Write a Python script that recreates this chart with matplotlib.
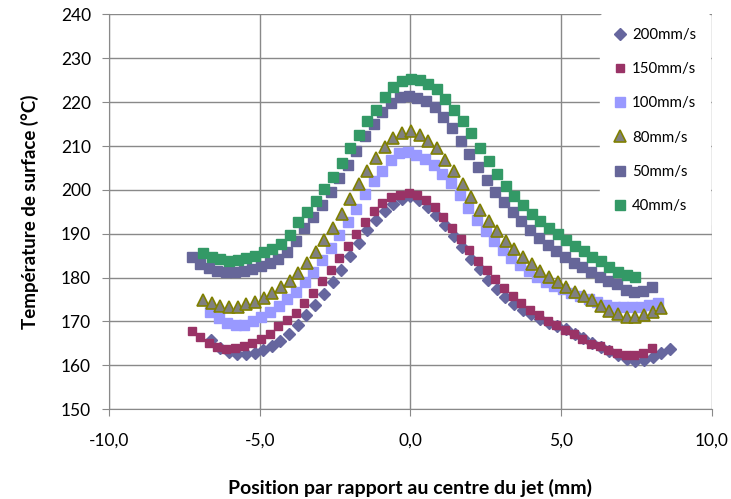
import matplotlib
matplotlib.use("Agg")
import matplotlib.pyplot as plt

plt.rcParams['font.family'] = ['Lato', 'DejaVu Sans']

# positions (mm) and surface temperatures (degC)
x_200 = [-6.60, -6.31, -6.03, -5.74, -5.45, -5.17, -4.88, -4.59, -4.31, -4.02,
         -3.73, -3.45, -3.16, -2.87, -2.58, -2.30, -2.01, -1.72, -1.44, -1.15,
         -0.86, -0.58, -0.29, 0.00, 0.28, 0.57, 0.86, 1.14, 1.43, 1.72,
         2.00, 2.29, 2.58, 2.86, 3.15, 3.44, 3.72, 4.01, 4.30, 4.59,
         4.87, 5.16, 5.45, 5.73, 6.02, 6.31, 6.59, 6.88, 7.17, 7.46,
         7.74, 8.03, 8.32, 8.60]
t_200 = [165.7, 164.0, 163.0, 162.6, 162.5, 162.9, 163.5, 164.4, 165.6, 167.2,
         169.3, 171.5, 173.8, 176.3, 178.9, 181.8, 185.0, 188.0, 190.8, 193.2,
         195.2, 196.8, 197.9, 198.5, 197.6, 196.1, 194.2, 192.0, 189.4, 187.0,
         184.3, 182.0, 179.4, 177.3, 175.5, 174.0, 172.7, 171.7, 170.5, 169.7,
         169.0, 168.2, 167.1, 166.3, 165.1, 164.1, 163.3, 162.3, 161.5, 160.9,
         161.1, 161.9, 162.8, 163.8]

x_150 = [-7.26, -6.97, -6.68, -6.40, -6.11, -5.82, -5.53, -5.25, -4.96, -4.67,
         -4.38, -4.09, -3.81, -3.52, -3.23, -2.94, -2.65, -2.37, -2.08, -1.79,
         -1.50, -1.21, -0.93, -0.64, -0.35, -0.06, 0.23, 0.51, 0.80, 1.09,
         1.38, 1.67, 1.95, 2.24, 2.53, 2.82, 3.11, 3.40, 3.68, 3.97,
         4.26, 4.55, 4.84, 5.12, 5.41, 5.70, 5.99, 6.28, 6.56, 6.85,
         7.14, 7.43, 7.72, 8.00]
t_150 = [167.8, 166.4, 165.0, 164.1, 163.8, 163.9, 164.4, 165.1, 166.0, 167.1,
         168.9, 170.3, 172.0, 174.1, 176.5, 179.2, 181.8, 184.5, 187.3, 190.0,
         192.6, 195.3, 196.9, 198.4, 198.9, 199.4, 198.8, 197.6, 196.1, 193.9,
         191.3, 188.8, 186.2, 183.8, 181.8, 179.7, 177.6, 175.8, 174.2, 172.7,
         171.5, 170.2, 169.2, 168.0, 167.2, 166.0, 164.9, 164.3, 163.6, 162.8,
         162.3, 162.3, 162.8, 164.0]

x_100 = [-6.65, -6.36, -6.08, -5.79, -5.51, -5.22, -4.94, -4.65, -4.37, -4.08,
         -3.79, -3.51, -3.22, -2.94, -2.65, -2.37, -2.08, -1.80, -1.51, -1.22,
         -0.94, -0.65, -0.37, -0.08, 0.20, 0.49, 0.78, 1.06, 1.35, 1.63,
         1.92, 2.20, 2.49, 2.77, 3.06, 3.35, 3.63, 3.92, 4.20, 4.49,
         4.77, 5.06, 5.34, 5.63, 5.92, 6.20, 6.49, 6.77, 7.06, 7.34,
         7.63, 7.91, 8.20]
t_100 = [172.1, 170.7, 169.6, 169.1, 169.3, 170.0, 171.1, 172.2, 173.5, 175.1,
         176.8, 178.9, 181.2, 184.1, 186.8, 189.8, 192.6, 195.6, 199.1, 202.1,
         204.4, 206.9, 208.3, 208.7, 208.0, 207.0, 205.6, 203.6, 201.5, 198.8,
         195.9, 193.1, 190.7, 188.3, 186.4, 184.5, 182.9, 181.5, 180.2, 179.1,
         178.1, 177.3, 176.5, 175.8, 175.1, 174.4, 173.8, 173.4, 173.2, 173.2,
         173.4, 173.7, 174.1]

x_80 = [-6.87, -6.58, -6.30, -6.01, -5.72, -5.44, -5.15, -4.86, -4.58, -4.29,
        -4.00, -3.72, -3.43, -3.14, -2.86, -2.57, -2.28, -2.00, -1.71, -1.43,
        -1.14, -0.85, -0.57, -0.28, 0.01, 0.30, 0.58, 0.87, 1.16, 1.44,
        1.73, 2.01, 2.30, 2.59, 2.87, 3.16, 3.45, 3.73, 4.02, 4.31,
        4.59, 4.88, 5.16, 5.45, 5.74, 6.02, 6.31, 6.60, 6.89, 7.17,
        7.46, 7.75, 8.03, 8.32]
t_80 = [174.9, 174.2, 173.5, 173.3, 173.3, 174.0, 174.5, 175.4, 176.5, 177.8,
        179.3, 181.0, 183.3, 185.9, 188.5, 191.4, 194.6, 198.0, 201.3, 204.4,
        207.3, 209.7, 211.8, 213.0, 213.4, 212.6, 211.2, 209.5, 206.8, 204.3,
        201.4, 198.3, 195.5, 193.0, 190.7, 188.4, 186.5, 184.6, 183.0, 181.4,
        180.1, 178.9, 177.8, 176.7, 175.7, 174.8, 173.6, 172.5, 171.7, 171.0,
        171.1, 171.4, 172.1, 173.0]

x_50 = [-7.26, -6.97, -6.68, -6.40, -6.11, -5.82, -5.53, -5.25, -4.96, -4.67,
        -4.38, -4.09, -3.81, -3.52, -3.23, -2.94, -2.65, -2.37, -2.08, -1.79,
        -1.50, -1.21, -0.93, -0.64, -0.35, -0.06, 0.23, 0.51, 0.80, 1.09,
        1.38, 1.67, 1.95, 2.24, 2.53, 2.82, 3.11, 3.40, 3.68, 3.97,
        4.26, 4.55, 4.84, 5.12, 5.41, 5.70, 5.99, 6.28, 6.56, 6.85,
        7.14, 7.43, 7.72, 8.00]
t_50 = [184.8, 183.2, 182.3, 181.6, 181.2, 181.2, 181.5, 181.9, 182.6, 183.3,
        184.2, 185.8, 188.3, 191.3, 193.9, 196.6, 199.6, 202.8, 205.7, 208.9,
        212.4, 215.1, 217.7, 219.9, 221.2, 221.3, 220.9, 220.2, 218.8, 216.6,
        214.2, 211.1, 208.1, 205.3, 202.3, 199.5, 197.2, 195.0, 192.8, 190.8,
        189.1, 187.5, 186.0, 184.8, 183.4, 182.4, 181.3, 180.2, 179.3, 178.6,
        177.1, 176.7, 177.0, 177.8]

x_40 = [-6.87, -6.58, -6.30, -6.01, -5.72, -5.44, -5.15, -4.86, -4.58, -4.29,
        -4.00, -3.72, -3.43, -3.14, -2.86, -2.57, -2.28, -2.00, -1.71, -1.43,
        -1.14, -0.85, -0.57, -0.28, 0.01, 0.30, 0.58, 0.87, 1.16, 1.44,
        1.73, 2.01, 2.30, 2.59, 2.87, 3.16, 3.45, 3.73, 4.02, 4.31,
        4.59, 4.88, 5.16, 5.45, 5.74, 6.02, 6.31, 6.60, 6.89, 7.17,
        7.46]
t_40 = [185.5, 184.8, 184.3, 183.9, 184.0, 184.5, 185.0, 185.8, 186.6, 187.7,
        189.8, 192.6, 195.0, 197.5, 200.2, 203.0, 206.2, 209.5, 212.5, 215.6,
        218.3, 221.1, 223.4, 224.9, 225.3, 225.1, 224.2, 223.0, 220.7, 218.2,
        215.7, 212.9, 209.6, 206.6, 203.7, 201.0, 198.7, 196.6, 194.5, 193.0,
        191.4, 189.9, 188.5, 187.1, 186.0, 184.8, 183.7, 182.5, 181.3, 180.6,
        180.2]

x_ticks = [-10, -5, 0, 5, 10]
x_ticklabels = ['-10,0', '-5,0', '0,0', '5,0', '10,0']
y_ticks = [150, 160, 170, 180, 190, 200, 210, 220, 230, 240]

fig = plt.figure(figsize=(7.31, 4.99), dpi=100)
ax = fig.add_axes([0.149, 0.180, 0.825, 0.791])

# series in Excel order, later ones drawn on top
ax.plot(x_200, t_200, 'D', ms=6.5, color='#66669e', mec='#66669e', label='200mm/s')
ax.plot(x_150, t_150, 's', ms=6, color='#993366', mec='#993366', label='150mm/s')
ax.plot(x_100, t_100, 's', ms=7, color='#9999ff', mec='#9999ff', label='100mm/s')
ax.plot(x_80, t_80, '^', ms=8, color='#808080', mec='#808000', mew=1.2, label='80mm/s')
ax.plot(x_50, t_50, 's', ms=7, color='#666699', mec='#666699', label='50mm/s')
ax.plot(x_40, t_40, 's', ms=7, color='#339966', mec='#339966', label='40mm/s')

ax.set_xlim(-10, 10)
ax.set_ylim(150, 240)
ax.set_xticks(x_ticks)
ax.set_xticklabels(x_ticklabels)
ax.set_yticks(y_ticks)

ax.grid(True, color='#898989', lw=1)
ax.set_axisbelow(True)
for s in ['top', 'right']:
    ax.spines[s].set_visible(False)
for s in ['left', 'bottom']:
    ax.spines[s].set_color('#898989')
ax.tick_params(axis='both', colors='#898989', length=5, labelsize=12.5,
               labelcolor='black')
ax.tick_params(axis='x', pad=12)
ax.tick_params(axis='y', pad=8)

ax.set_xlabel('Position par rapport au centre du jet (mm)', fontsize=14,
              fontweight='bold', labelpad=22)
ax.set_ylabel('Température de surface (°C)', fontsize=13.5, fontweight='bold',
              labelpad=16)

leg = ax.legend(loc='upper left', bbox_to_anchor=(0.815, 1.0), frameon=True,
                fontsize=10.8, labelspacing=1.35, handlelength=0.8,
                handletextpad=0.4, borderpad=0.9, borderaxespad=0,
                markerscale=1.0)
leg.get_frame().set_facecolor('white')
leg.get_frame().set_edgecolor('white')
leg.get_frame().set_alpha(1)

fig.savefig('out.png', dpi=100)
